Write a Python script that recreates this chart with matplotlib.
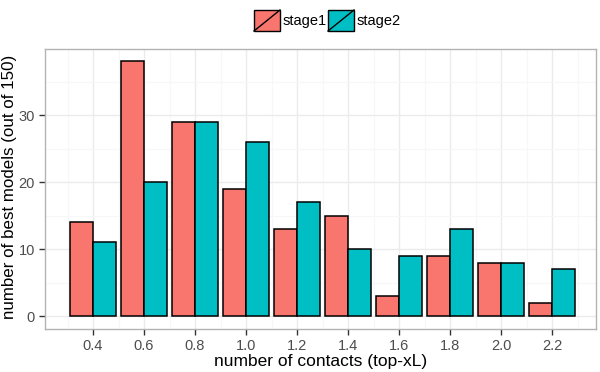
import matplotlib
matplotlib.use("Agg")
import matplotlib.pyplot as plt
import numpy as np
from matplotlib.patches import Rectangle
from matplotlib.lines import Line2D

plt.rcParams['font.family'] = ['Liberation Sans', 'DejaVu Sans']

contacts = [0.4, 0.6, 0.8, 1.0, 1.2, 1.4, 1.6, 1.8, 2.0, 2.2]
stage1 = [14, 38, 29, 19, 13, 15, 3, 9, 8, 2]
stage2 = [11, 20, 29, 26, 17, 10, 9, 13, 8, 7]
series_names = ["stage1", "stage2"]
colors = ["#F8766D", "#00BFC4"]
xtick_labels = ["0.4", "0.6", "0.8", "1.0", "1.2", "1.4", "1.6", "1.8", "2.0", "2.2"]

fig = plt.figure(figsize=(6, 3.72), dpi=100)
ax = fig.add_axes([44.7/600, 1-329/372, (595.7-44.7)/600, (329-48.7)/372])

x = np.array(contacts)
w = 0.09
for i, (vals, c) in enumerate(zip([stage1, stage2], colors)):
    off = (i - 0.5) * w
    ax.bar(x + off, vals, width=w, color=c, edgecolor="black", linewidth=1.1, zorder=3)

ax.set_xlim(0.2106, 2.371)
ax.set_ylim(-1.9, 39.9)
ax.set_xticks(contacts)
ax.set_xticklabels(xtick_labels)
ax.set_yticks([0, 10, 20, 30])
ax.set_xticks(np.arange(0.3, 2.4, 0.2), minor=True)
ax.set_yticks([5, 15, 25, 35], minor=True)
ax.grid(which="major", color="#ebebeb", linewidth=1.0, zorder=0)
ax.grid(which="minor", color="#f7f7f7", linewidth=0.8, zorder=0)
ax.tick_params(which="minor", length=0)
ax.tick_params(which="major", length=4, width=1, color="#333333", labelsize=10.5,
               labelcolor="#4d4d4d", pad=3)
for s in ax.spines.values():
    s.set_color("#b3b3b3")
    s.set_linewidth(1.0)
ax.set_axisbelow(True)

ax.set_xlabel("number of contacts (top-xL)", fontsize=12.5, labelpad=1)
ax.set_ylabel("number of best models (out of 150)", fontsize=12.2)
ax.yaxis.set_label_coords(-28/551, 0.507)

# legend at top
bw, bh = 26/600, 21/372
ybox = 1 - 31/372
xs_box = [254/600, 328/600]
for name, c, xb in zip(series_names, colors, xs_box):
    fig.patches.append(Rectangle((xb, ybox), bw, bh, transform=fig.transFigure,
                                 facecolor=c, edgecolor="black", linewidth=1.0))
    fig.lines.append(Line2D([xb, xb + bw], [ybox, ybox + bh], transform=fig.transFigure,
                            color="black", linewidth=1.0))
    fig.text(xb + bw + 3/600, ybox + bh/2, name, fontsize=10.5, va="center", ha="left")

fig.savefig("out.png", dpi=100, facecolor="white")
